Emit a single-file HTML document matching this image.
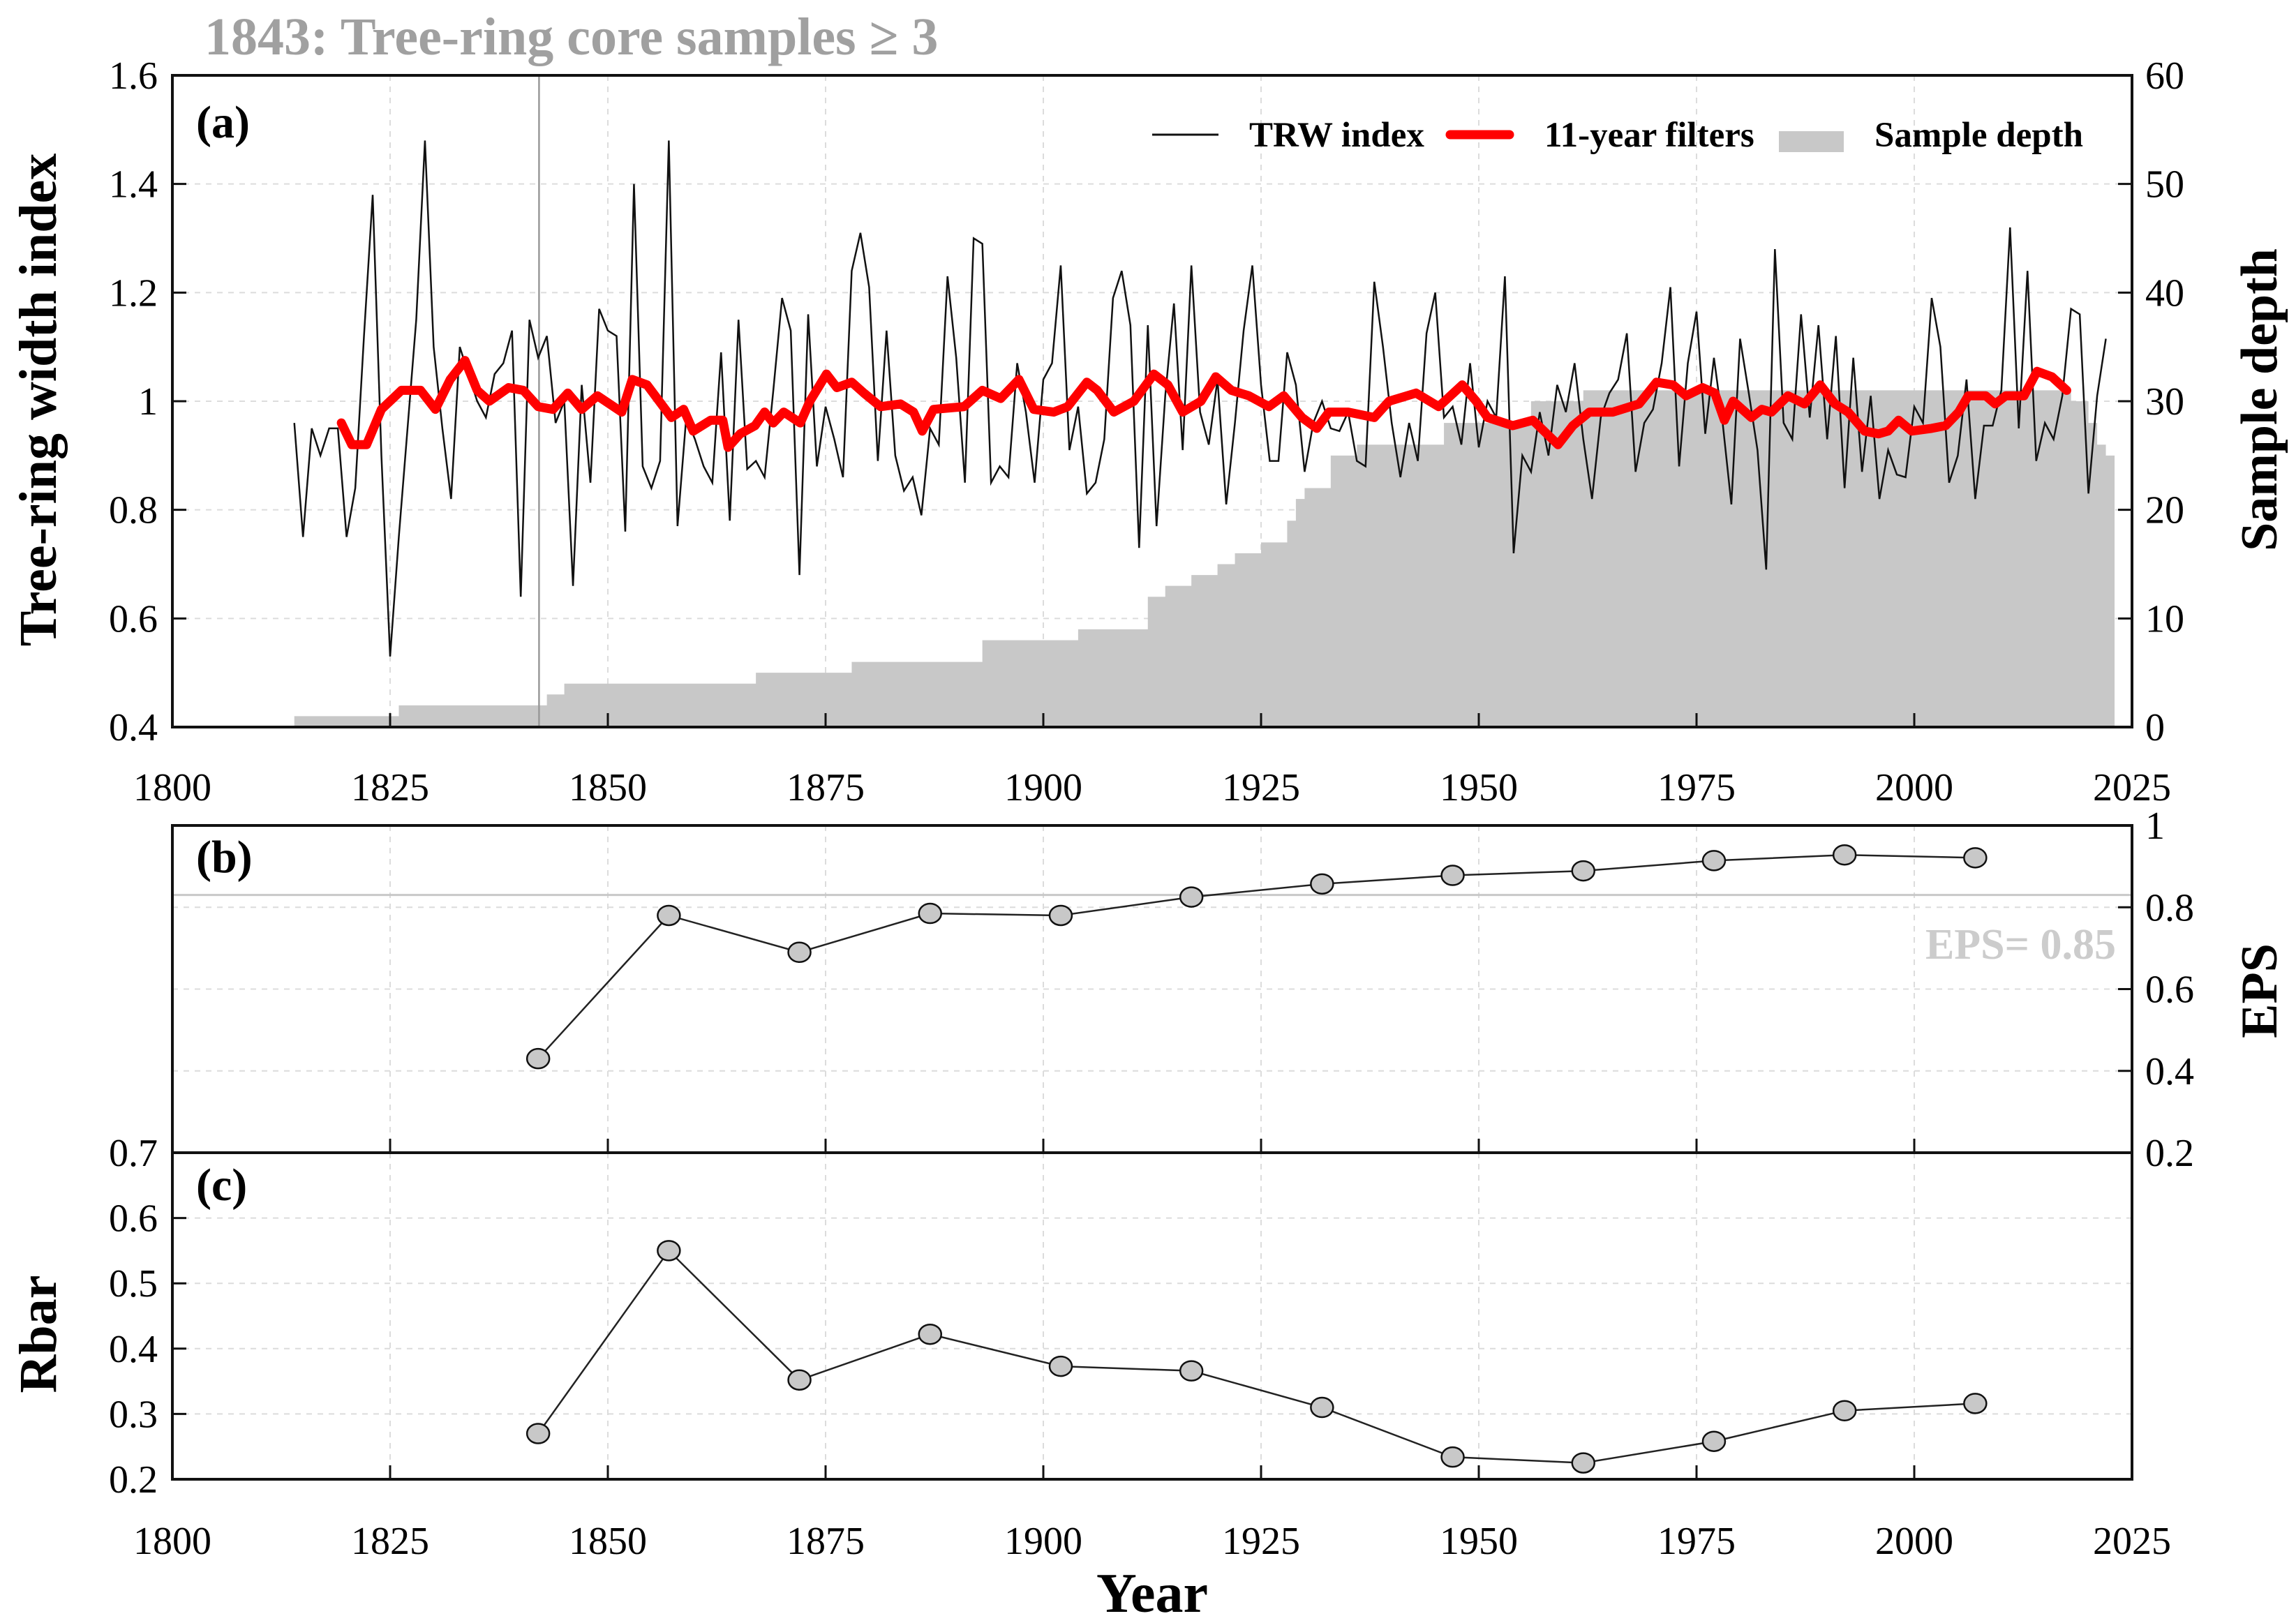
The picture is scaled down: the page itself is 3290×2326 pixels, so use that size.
<!DOCTYPE html>
<html><head><meta charset="utf-8"><style>
html,body{margin:0;padding:0;background:#fff}
svg{display:block;font-family:"Liberation Serif",serif}
</style></head><body>
<svg id="chart" xmlns="http://www.w3.org/2000/svg" width="3290" height="2326" viewBox="0 0 3290 2326"></svg>
<script>
// ---- data ----
const trwStart = 1814;
const trwValues = [0.96,0.75,0.95,0.90,0.95,0.95,0.75,0.84,1.12,1.38,0.90,0.53,0.75,0.95,1.15,1.48,1.10,0.95,0.82,1.10,
1.05,1.00,0.97,1.05,1.07,1.13,0.64,1.15,1.08,1.12,0.96,1.00,0.66,1.03,0.85,1.17,1.13,1.12,0.76,1.40,
0.88,0.84,0.89,1.48,0.77,0.97,0.93,0.88,0.85,1.09,0.78,1.15,0.875,0.89,0.86,1.02,1.19,1.13,0.68,1.16,
0.88,0.99,0.93,0.86,1.24,1.31,1.21,0.89,1.13,0.90,0.835,0.86,0.79,0.95,0.92,1.23,1.08,0.85,1.30,1.29,
0.85,0.88,0.86,1.07,0.98,0.85,1.04,1.07,1.25,0.91,0.99,0.83,0.85,0.93,1.19,1.24,1.14,0.73,1.14,0.77,
1.01,1.18,0.91,1.25,0.98,0.92,1.04,0.81,0.96,1.13,1.25,1.03,0.89,0.89,1.09,1.03,0.87,0.96,1.00,0.95,
0.945,0.98,0.89,0.88,1.22,1.10,0.96,0.86,0.96,0.89,1.125,1.20,0.97,0.99,0.92,1.07,0.915,1.00,0.97,1.23,
0.72,0.90,0.87,0.98,0.90,1.03,0.98,1.07,0.93,0.82,0.97,1.015,1.04,1.125,0.87,0.96,0.985,1.07,1.21,0.88,
1.07,1.165,0.94,1.08,0.96,0.81,1.115,1.015,0.91,0.69,1.28,0.96,0.93,1.16,0.97,1.14,0.93,1.12,0.84,1.08,
0.87,1.01,0.82,0.91,0.865,0.86,0.99,0.96,1.19,1.10,0.85,0.90,1.04,0.82,0.955,0.955,1.02,1.32,0.95,1.24,
0.89,0.96,0.93,1.01,1.17,1.16,0.83,1.01,1.115];
const filterYears = [1819.4,1820.6,1822.3,1824,1826.3,1828.5,1830.2,1831.9,1833.6,1835,1836.4,1838.6,1840.3,1842,1843.7,1845.4,1847,1848.8,1851.6,1852.8,1854.5,1857.3,1858.7,1859.8,1861.8,1863.2,1863.8,1865.2,1866.9,1868,1869,1870.2,1872.1,1873.2,1875.1,1876.3,1878,1879.4,1881.3,1883.6,1885.1,1886.1,1887.4,1890.9,1893,1895.1,1897.2,1898.9,1901.2,1902.8,1905,1906.2,1908.1,1910.4,1912.7,1914.3,1916,1918.1,1919.8,1921.6,1923.6,1925.9,1927.6,1929.7,1931.4,1932.8,1935,1938,1939.7,1942.8,1945.4,1948.1,1949.7,1951,1953.9,1956.2,1959.1,1960.8,1962.7,1965.4,1968.4,1970.4,1972.3,1973.8,1975.7,1977.1,1978.2,1979.2,1981.3,1982.5,1983.6,1985.5,1987.4,1989.2,1990.9,1992.4,1994.3,1995.9,1997,1998.2,1999.7,2002,2003.6,2005.1,2006.2,2008.2,2009.3,2010.5,2012.6,2014.1,2015.8,2017.5];
const filterValues = [0.96,0.92,0.92,0.985,1.02,1.02,0.985,1.04,1.075,1.02,1.0,1.025,1.02,0.99,0.985,1.015,0.985,1.01,0.98,1.04,1.03,0.97,0.985,0.945,0.965,0.965,0.915,0.94,0.955,0.98,0.96,0.98,0.96,1.0,1.05,1.025,1.035,1.015,0.99,0.995,0.98,0.945,0.985,0.99,1.02,1.005,1.04,0.985,0.98,0.99,1.035,1.02,0.98,1.0,1.05,1.03,0.98,1.0,1.045,1.02,1.01,0.99,1.01,0.97,0.95,0.98,0.98,0.97,1.0,1.015,0.99,1.03,1.0,0.97,0.955,0.965,0.92,0.955,0.98,0.98,0.995,1.035,1.03,1.01,1.025,1.015,0.965,1.0,0.97,0.985,0.98,1.01,0.995,1.03,0.995,0.98,0.945,0.94,0.945,0.965,0.945,0.95,0.955,0.98,1.01,1.01,0.995,1.01,1.01,1.055,1.045,1.02];
const depthYears = [1814,1826,1843,1845,1867,1878,1893,1904,1912,1914,1917,1920,1922,1925,1928,1929,1930,1933,1936,1946,1956,1962,2018,2020,2021,2022,2023];
const depthValues = [1,2,3,4,5,6,8,9,12,13,14,15,16,17,19,21,22,25,26,28,30,31,30,28,26,25,25];
const statYears = [1842,1857,1872,1887,1902,1917,1932,1947,1962,1977,1992,2007];
const epsValues = [0.43,0.78,0.69,0.785,0.78,0.825,0.857,0.878,0.889,0.914,0.928,0.921];
const rbarValues = [0.27,0.55,0.352,0.422,0.373,0.366,0.31,0.234,0.225,0.258,0.305,0.316];
const xTicks = [1800,1825,1850,1875,1900,1925,1950,1975,2000,2025];
const trwTicks = [0.4,0.6,0.8,1,1.2,1.4,1.6];
const depthTicks = [0,10,20,30,40,50,60];
const epsTicks = [0.2,0.4,0.6,0.8,1];
const rbarTicks = [0.2,0.3,0.4,0.5,0.6,0.7];

// ---- layout ----
const L=247,R=3055,AT=108,AB=1042,BT=1183,BB=1652,CT=1652,CB=2120;
const FS=56;
const NS="http://www.w3.org/2000/svg";
const svg=document.getElementById('chart');
function el(tag,attrs,parent){const e=document.createElementNS(NS,tag);for(const k in attrs)e.setAttribute(k,attrs[k]);(parent||svg).appendChild(e);return e;}
function txt(s,attrs){const e=el('text',attrs);e.textContent=s;return e;}
const x=y=>L+(y-1800)/225*(R-L);
const yA=v=>AB-(v-0.4)/1.2*(AB-AT);
const yD=v=>AB-v/60*(AB-AT);
const yB=v=>BB-(v-0.2)/0.8*(BB-BT);
const yC=v=>CB-(v-0.2)/0.5*(CB-CT);

// grids
const grid=el('g',{});


xTicks.slice(1,-1).forEach(t=>{
  [[AT,AB],[BT,BB],[CT,CB]].forEach(([a,b])=>el('line',{x1:x(t),x2:x(t),y1:a,y2:b,stroke:'#dcdcdc','stroke-width':2,'stroke-dasharray':'8,8'},grid));
});
trwTicks.slice(1,-1).forEach(t=>el('line',{x1:L,x2:R,y1:yA(t),y2:yA(t),stroke:'#dcdcdc','stroke-width':2,'stroke-dasharray':'8,8'},grid));
epsTicks.slice(1,-1).forEach(t=>el('line',{x1:L,x2:R,y1:yB(t),y2:yB(t),stroke:'#dcdcdc','stroke-width':2,'stroke-dasharray':'8,8'},grid));
rbarTicks.slice(1,-1).forEach(t=>el('line',{x1:L,x2:R,y1:yC(t),y2:yC(t),stroke:'#dcdcdc','stroke-width':2,'stroke-dasharray':'8,8'},grid));

// sample depth area
let d=`M${x(depthYears[0])},${AB}`;
for(let i=0;i<depthYears.length-1;i++){d+=` L${x(depthYears[i])},${yD(depthValues[i])} L${x(depthYears[i+1])},${yD(depthValues[i])}`;}
d+=` L${x(depthYears[depthYears.length-1])},${AB} Z`;
const area=el('path',{d:d,fill:'#c8c8c8'});



// 1843 line
const vl=el('line',{x1:x(1842.1),x2:x(1842.1),y1:AT,y2:AB,stroke:'#999','stroke-width':2.5});



// TRW line
const trwPts=trwValues.map((v,i)=>`${x(trwStart+i)},${yA(v)}`).join(' ');
const trw=el('polyline',{points:trwPts,fill:'none',stroke:'#111','stroke-width':2.5});


const fPts=filterValues.map((v,i)=>`${x(filterYears[i])},${yA(v)}`).join(' ');
const fl=el('polyline',{points:fPts,fill:'none',stroke:'#f00','stroke-width':13,'stroke-linejoin':'round','stroke-linecap':'round'});



// EPS threshold
const th=el('line',{x1:L,x2:R,y1:yB(0.83),y2:yB(0.83),stroke:'#c8c8c8','stroke-width':3});


const tht=txt('EPS= 0.85',{x:3032,y:1374,'text-anchor':'end','font-size':62,'font-weight':'bold',fill:'#cccccc'});



// EPS & Rbar series
function series(vals,yf,name){
  const pl=el('polyline',{points:vals.map((v,i)=>`${x(statYears[i])},${yf(v)}`).join(' '),fill:'none',stroke:'#222','stroke-width':2.5});
  
  
  vals.forEach((v,i)=>{
    const c=el('ellipse',{cx:x(statYears[i]),cy:yf(v),rx:16,ry:14,fill:'#c8c8c8',stroke:'#111','stroke-width':2.5});
    
    
  });
}
series(epsValues,yB,'eps');
series(rbarValues,yC,'rbar');

// frames
[[AT,AB],[BT,BB],[CT,CB]].forEach(([a,b])=>el('rect',{x:L,y:a,width:R-L,height:b-a,fill:'none',stroke:'#111','stroke-width':4}));
xTicks.slice(1,-1).forEach(t=>{
  [AB,BB,CB].forEach(b=>el('line',{x1:x(t),x2:x(t),y1:b,y2:b-20,stroke:'#111','stroke-width':3}));
});
trwTicks.forEach(t=>{el('line',{x1:L,x2:L+20,y1:yA(t),y2:yA(t),stroke:'#111','stroke-width':3});
  const e=txt(t===1?'1':t.toFixed(1),{x:226,y:yA(t)+19,'text-anchor':'end','font-size':FS});
  
  });
depthTicks.forEach(t=>{el('line',{x1:R,x2:R-20,y1:yD(t),y2:yD(t),stroke:'#111','stroke-width':3});
  const e=txt(String(t),{x:3074,y:yD(t)+19,'font-size':FS});
  
  });
epsTicks.forEach(t=>{el('line',{x1:R,x2:R-20,y1:yB(t),y2:yB(t),stroke:'#111','stroke-width':3});
  const e=txt(t===1?'1':t.toFixed(1),{x:3074,y:yB(t)+19,'font-size':FS});
  
  });
rbarTicks.forEach(t=>{el('line',{x1:L,x2:L+20,y1:yC(t),y2:yC(t),stroke:'#111','stroke-width':3});
  const e=txt(t.toFixed(1),{x:226,y:yC(t)+19,'text-anchor':'end','font-size':FS});
  
  });
xTicks.forEach(t=>{
  const a=txt(String(t),{x:x(t),y:1147,'text-anchor':'middle','font-size':FS});
  
  
  const b=txt(String(t),{x:x(t),y:2227,'text-anchor':'middle','font-size':FS});
  
  
});
</script>
<svg style="position:absolute;left:0;top:0" width="3290" height="2326" font-family="Liberation Serif, serif">
  <text x="293" y="78" font-size="76" font-weight="bold" fill="#a0a0a0">1843: Tree-ring core samples ≥ 3</text>
  <text x="281" y="197" font-size="66" font-weight="bold">(a)</text>
  <text x="281" y="1250" font-size="66" font-weight="bold">(b)</text>
  <text x="281" y="1720" font-size="66" font-weight="bold">(c)</text>
  <text transform="translate(80,573) rotate(-90)" text-anchor="middle" font-size="76" font-weight="bold">Tree-ring width index</text>
  <text transform="translate(3262,573) rotate(-90)" text-anchor="middle" font-size="74" font-weight="bold">Sample depth</text>
  <text transform="translate(3262,1420) rotate(-90)" text-anchor="middle" font-size="74" font-weight="bold">EPS</text>
  <text transform="translate(80,1912) rotate(-90)" text-anchor="middle" font-size="76" font-weight="bold">Rbar</text>
  <text x="1651" y="2310" text-anchor="middle" font-size="80" font-weight="bold">Year</text>
  <g>
    <line x1="1651" y1="193" x2="1746" y2="193" stroke="#111" stroke-width="3"/>
    <text x="1790" y="210" font-size="51" font-weight="bold">TRW index</text>
    <line x1="2078" y1="193" x2="2163" y2="193" stroke="#f00" stroke-width="13" stroke-linecap="round"/>
    <text x="2213" y="210" font-size="51" font-weight="bold">11-year filters</text>
    <rect x="2549" y="188" width="93" height="30" fill="#c8c8c8"/>
    <text x="2686" y="210" font-size="51" font-weight="bold">Sample depth</text>
  </g>
</svg>
</body></html>
